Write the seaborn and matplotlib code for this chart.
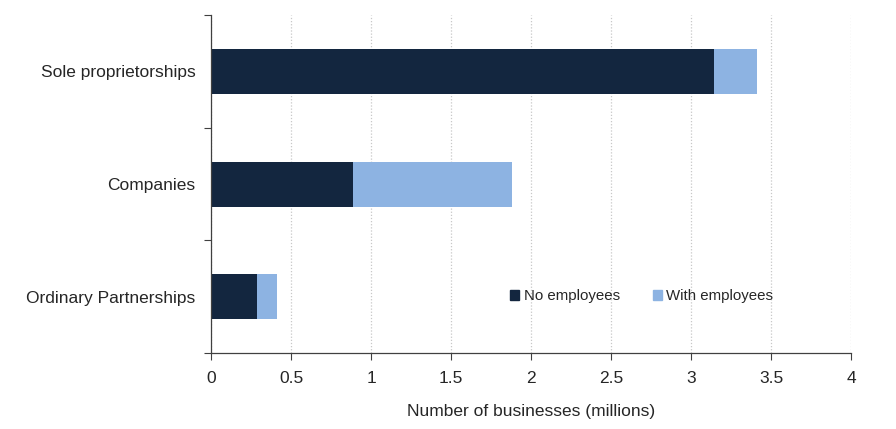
import matplotlib
matplotlib.use("Agg")
import matplotlib.pyplot as plt
import matplotlib.patches as mpatches
import pandas as pd
import seaborn as sns

# Values (millions of businesses)
types = ["Sole proprietorships", "Companies", "Ordinary Partnerships"]
no_employees = [3.14, 0.89, 0.29]
with_employees = [0.27, 0.99, 0.12]

dark = "#13263F"
light = "#8DB3E2"

df = pd.DataFrame({"type": types, "no": no_employees, "with": with_employees})
df["total"] = df["no"] + df["with"]

sns.set_style("white")
plt.rcParams["font.family"] = ["Liberation Sans", "DejaVu Sans"]

fig = plt.figure(figsize=(8.96, 4.29), dpi=100)
ax = fig.add_axes([0.2355, 0.177, 0.7145, 0.788])

# Stacked: draw totals in light blue, then the no-employee part on top
sns.barplot(data=df, x="total", y="type", color=light, width=0.4, saturation=1,
            linewidth=0, ax=ax)
sns.barplot(data=df, x="no", y="type", color=dark, width=0.4, saturation=1,
            linewidth=0, ax=ax)

ax.set_xlim(0, 4)
ax.set_ylim(2.5, -0.5)
ax.set_xticks([0, 0.5, 1, 1.5, 2, 2.5, 3, 3.5, 4])
ax.set_xticklabels(["0", "0.5", "1", "1.5", "2", "2.5", "3", "3.5", "4"])
ax.xaxis.grid(True, color="#C8C8C8", linestyle=(0, (1, 1.5)), linewidth=0.9)
ax.set_axisbelow(True)

ax.set_yticks([-0.5, 0.5, 1.5, 2.5], minor=True)
ax.tick_params(axis="y", which="minor", length=5, color="#404040", width=0.8, left=True)
ax.tick_params(axis="y", which="major", length=0, pad=11, labelsize=12.5)
ax.tick_params(axis="x", length=5, color="#404040", width=0.8, bottom=True,
               labelsize=12.5, pad=8)

for s in ["top", "right"]:
    ax.spines[s].set_visible(False)
for s in ["left", "bottom"]:
    ax.spines[s].set_color("#404040")
    ax.spines[s].set_linewidth(0.9)

ax.set_ylabel("")
ax.set_xlabel("Number of businesses (millions)", fontsize=12.5, labelpad=13)

handles = [mpatches.Patch(color=dark, label="No employees"),
           mpatches.Patch(color=light, label="With employees")]
ax.legend(handles=handles, ncol=2, frameon=False, fontsize=10.8,
          handlelength=0.6, handleheight=0.6, handletextpad=0.3, columnspacing=2.2,
          loc="center", bbox_to_anchor=(0.673, 0.168))

fig.savefig("out.png", dpi=100)
